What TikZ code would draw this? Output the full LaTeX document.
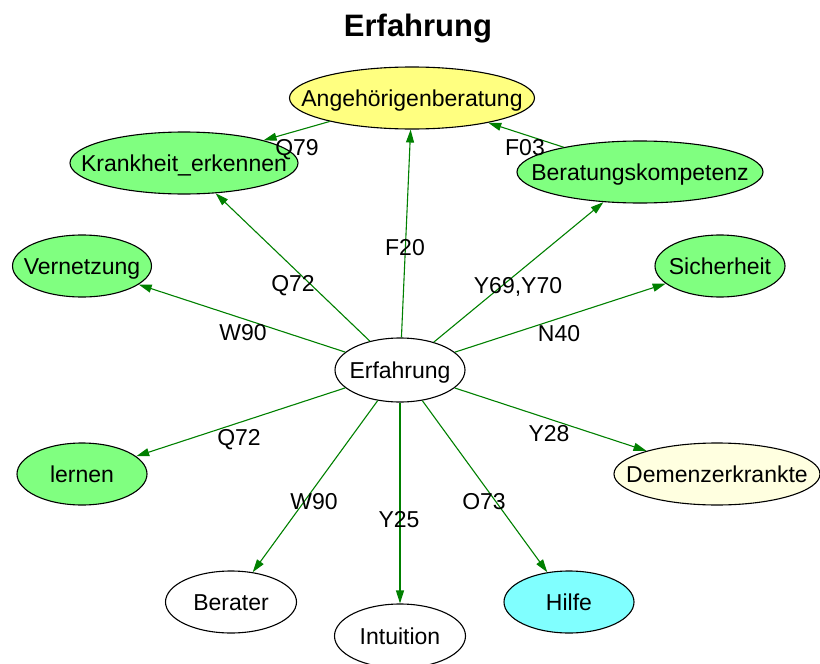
\documentclass[tikz,border=0pt]{standalone}
\usepackage{fontspec}
\setmainfont{Liberation Sans}
\usetikzlibrary{shapes.geometric,arrows.meta}
\definecolor{fillgreen}{HTML}{80FF80}
\definecolor{fillyellow}{HTML}{FFFF80}
\definecolor{filllight}{HTML}{FFFFE0}
\definecolor{fillcyan}{HTML}{80FFFF}
\definecolor{edgegreen}{HTML}{008000}
% zero-width box so the ellipse size comes from minimum width alone
\newcommand\zw[1]{\makebox[0pt]{#1}}
\begin{document}
\begin{tikzpicture}[x=1pt,y=-1pt,
  every node/.style={font=\fontsize{23}{25}\selectfont},
  concept/.style={ellipse,draw=black,line width=1.1pt,inner sep=0pt,minimum height=62pt,
    text height=16.5pt,text depth=0pt},
  link/.style={draw=edgegreen,line width=1.1pt,-{Triangle[length=13pt,width=8pt]}},
  lbl/.style={inner sep=0pt,text=black,text height=16.5pt,text depth=0pt}]
\useasboundingbox (0,0) rectangle (820,664);

% title
\node[font=\bfseries\fontsize{31}{33}\selectfont,inner sep=0pt,text height=22pt,text depth=0pt] (title) at (418,25) {Erfahrung};

% concepts
\node[concept,minimum width=130pt,minimum height=64pt] (erf) at (400,370) {\zw{Erfahrung}};
\node[concept,fill=fillyellow,minimum width=245pt] (ang) at (412,98) {\zw{Angehörigenberatung}};
\node[concept,fill=fillgreen,minimum width=228pt] (kra) at (184,163) {\zw{Krankheit\_erkennen}};
\node[concept,fill=fillgreen,minimum width=139pt] (ver) at (82,266) {\zw{Vernetzung}};
\node[concept,fill=fillgreen,minimum width=246pt] (ber) at (640,172) {\zw{Beratungskompetenz}};
\node[concept,fill=fillgreen,minimum width=130pt] (sic) at (720,266) {\zw{Sicherheit}};
\node[concept,fill=fillgreen,minimum width=130pt] (ler) at (82,474) {\zw{lernen}};
\node[concept,fill=filllight,minimum width=206pt] (dem) at (717,474) {\zw{Demenzerkrankte}};
\node[concept,minimum width=131pt] (bera) at (231,602) {\zw{Berater}};
\node[concept,minimum width=131pt,minimum height=64pt] (int) at (400,636) {\zw{Intuition}};
\node[concept,fill=fillcyan,minimum width=130pt] (hil) at (569,602) {\zw{Hilfe}};

% connectors
\draw[link] (ang) -- (kra);
\draw[link] (ber) -- (ang);
\draw[link] (erf) -- (kra);
\draw[link] (erf) -- (ver);
\draw[link] (erf) -- (ang);
\draw[link] (erf) -- (ber);
\draw[link] (erf) -- (sic);
\draw[link] (erf) -- (ler);
\draw[link] (erf) -- (dem);
\draw[link] (erf) -- (bera);
\draw[link] (erf) -- (int);
\draw[link] (erf) -- (hil);

% connector labels
\node[lbl] (l1) at (297,147) {Q79};
\node[lbl] (l2) at (525,147) {F03};
\node[lbl] (l3) at (293,283) {Q72};
\node[lbl] (l4) at (405,247) {F20};
\node[lbl] (l5) at (518,285) {Y69,Y70};
\node[lbl] (l6) at (243,332) {W90};
\node[lbl] (l7) at (559,333) {N40};
\node[lbl] (l8) at (239,437) {Q72};
\node[lbl] (l9) at (549,433) {Y28};
\node[lbl] (l10) at (314,501) {W90};
\node[lbl] (l11) at (399,519) {Y25};
\node[lbl] (l12) at (484,501) {O73};
\end{tikzpicture}
\end{document}
